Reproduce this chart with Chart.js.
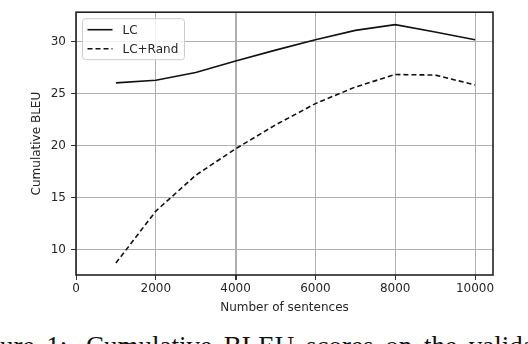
<!DOCTYPE html>
<html>
<head>
<meta charset="utf-8">
<script src="https://cdn.jsdelivr.net/npm/chart.js@4.4.1/dist/chart.umd.min.js"></script>
<style>
  html, body { margin: 0; padding: 0; background: #fff; overflow: hidden; }
  #wrap { position: relative; width: 528px; height: 344px; overflow: hidden; }
  #chart-box { position: absolute; left: 0; top: 0; width: 528px; height: 320px; }
  #caption {
    position: absolute; left: -36px; top: 331px; white-space: nowrap;
    font-family: 'Liberation Serif', 'Times New Roman', serif; font-size: 27px;
    line-height: 30px; color: #111; word-spacing: 5px;
  }
  #caption .num { margin-right: 7px; }
</style>
</head>
<body>
<div id="wrap">
  <div id="chart-box"><canvas id="bleu"></canvas></div>
  <div id="caption"><span class="num">Figure 1:</span> Cumulative BLEU scores on the validation set</div>
</div>
<script>
const sentences = [1000, 2000, 3000, 4000, 5000, 6000, 7000, 8000, 9000, 10000];
const bleuLC = [26.05, 26.3, 27.05, 28.15, 29.2, 30.2, 31.1, 31.65, 30.95, 30.2];
const bleuLCRand = [8.7, 13.7, 17.15, 19.7, 22.0, 24.05, 25.65, 26.85, 26.8, 25.85];
const xTicks = [0, 2000, 4000, 6000, 8000, 10000];
const yTicks = [10, 15, 20, 25, 30];

const textColor = '#262626';
const font = { family: 'DejaVu Sans', size: 12 };

function points(ys) {
  return sentences.map((x, i) => ({ x, y: ys[i] }));
}

// matplotlib-style frame + legend inside the axes
const framePlugin = {
  id: 'frame',
  afterDatasetsDraw(chart) {
    const { ctx, chartArea: a } = chart;
    ctx.save();
    ctx.strokeStyle = '#222';
    ctx.lineWidth = 1.6;
    ctx.strokeRect(a.left, a.top, a.right - a.left, a.bottom - a.top);

    const bx = a.left + 6.5, by = a.top + 6.5, bw = 102, bh = 41;
    ctx.beginPath();
    ctx.roundRect(bx, by, bw, bh, 3);
    ctx.fillStyle = 'rgba(255,255,255,0.8)';
    ctx.fill();
    ctx.strokeStyle = '#cccccc';
    ctx.lineWidth = 1;
    ctx.stroke();

    chart.data.datasets.forEach((ds, i) => {
      const y = by + 11 + i * 19;
      ctx.beginPath();
      ctx.setLineDash(ds.borderDash || []);
      ctx.strokeStyle = ds.borderColor;
      ctx.lineWidth = ds.borderWidth;
      ctx.moveTo(bx + 5, y);
      ctx.lineTo(bx + 30, y);
      ctx.stroke();
      ctx.setLineDash([]);
      ctx.fillStyle = textColor;
      ctx.font = `${font.size}px ${font.family}`;
      ctx.textBaseline = 'middle';
      ctx.fillText(ds.label, bx + 40, y + 1);
    });
    ctx.restore();
  },
};

new Chart(document.getElementById('bleu'), {
  type: 'line',
  data: {
    datasets: [
      {
        label: 'LC',
        data: points(bleuLC),
        borderColor: '#111',
        borderWidth: 1.6,
        pointRadius: 0,
        tension: 0,
      },
      {
        label: 'LC+Rand',
        data: points(bleuLCRand),
        borderColor: '#111',
        borderWidth: 1.6,
        borderDash: [5, 3],
        pointRadius: 0,
        tension: 0,
      },
    ],
  },
  options: {
    responsive: true,
    maintainAspectRatio: false,
    animation: false,
    layout: { padding: { left: 0, right: 35, top: 2, bottom: 0 } },
    plugins: { legend: { display: false }, tooltip: { enabled: false } },
    scales: {
      x: {
        type: 'linear',
        min: 0,
        max: 10450,
        afterBuildTicks: (scale) => { scale.ticks = xTicks.map((v) => ({ value: v })); },
        afterFit: (scale) => { scale.height = 45; },
        ticks: { color: textColor, font, padding: 2, maxRotation: 0, callback: (v) => String(v) },
        grid: {
          color: '#b0b0b0',
          lineWidth: (c) => (c.tick && c.tick.value === 4000 ? 2 : 1),
          tickColor: '#333',
          tickLength: 5,
          drawOnChartArea: true,
        },
        border: { display: false },
        title: { display: true, text: 'Number of sentences', color: textColor, font, padding: { top: 0, bottom: 5 } },
      },
      y: {
        min: 7.55,
        max: 32.85,
        afterBuildTicks: (scale) => { scale.ticks = yTicks.map((v) => ({ value: v })); },
        afterFit: (scale) => { scale.width = 76; },
        ticks: { color: textColor, font, padding: 5, callback: (v) => String(v) },
        grid: { color: '#b0b0b0', lineWidth: 1, tickColor: '#333', tickLength: 5 },
        border: { display: false },
        title: { display: true, text: 'Cumulative BLEU', color: textColor, font, padding: { top: 30, bottom: 0 } },
      },
    },
  },
  plugins: [framePlugin],
});
</script>
</body>
</html>
